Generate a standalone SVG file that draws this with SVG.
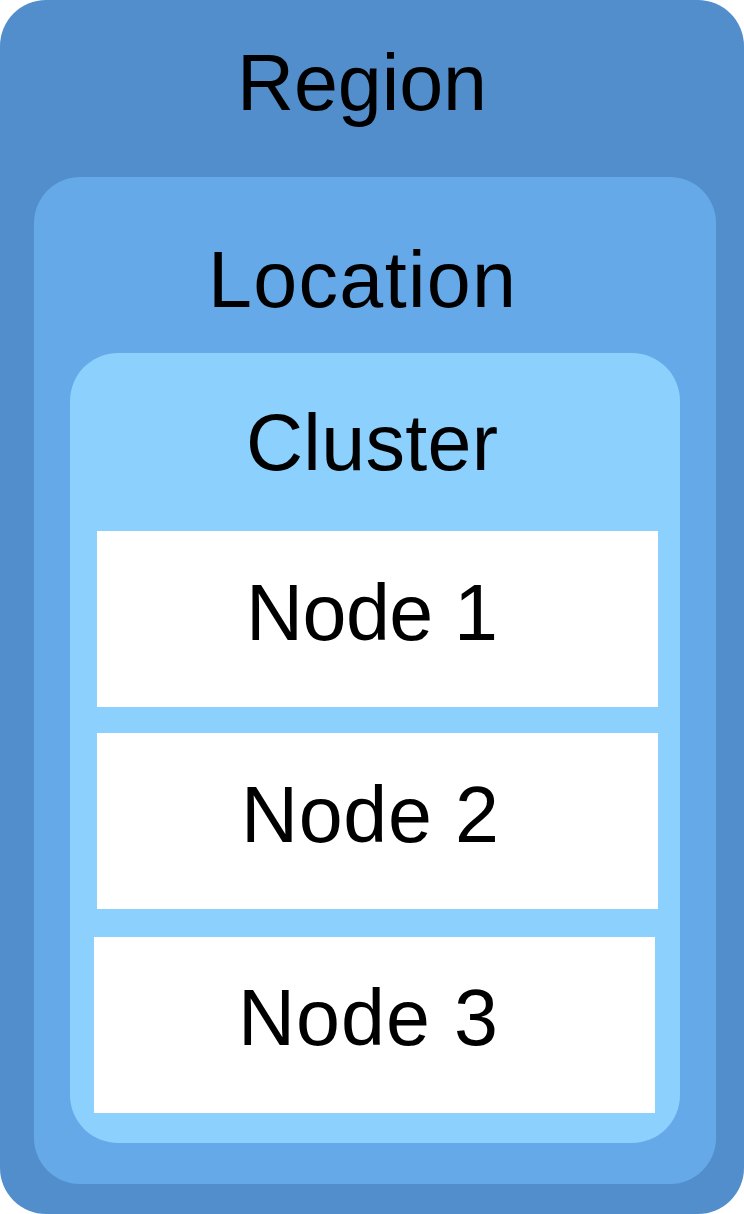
<svg xmlns="http://www.w3.org/2000/svg" width="744" height="1214" viewBox="0 0 744 1214">
<style>
text{font-family:"Liberation Sans",Arial,sans-serif;font-size:79px;fill:#000;text-anchor:middle}
.node{fill:#fff}
</style>
<g id="region">
<rect x="0" y="0" width="744" height="1214" rx="46" ry="46" fill="#528ECC"/>
<text x="362" y="110" textLength="250" lengthAdjust="spacing">Region</text>
</g>
<g id="location">
<rect x="34" y="177" width="682" height="1007" rx="46" ry="46" fill="#65A9E8"/>
<text x="362" y="307" textLength="308" lengthAdjust="spacing">Location</text>
</g>
<g id="cluster">
<rect x="70" y="353" width="610" height="790" rx="48" ry="48" fill="#8CD1FD"/>
<text x="372" y="470" textLength="252" lengthAdjust="spacing">Cluster</text>
</g>
<g id="node1">
<rect class="node" x="97" y="531" width="561" height="176"/>
<text x="372" y="640" textLength="252" lengthAdjust="spacing">Node 1</text>
</g>
<g id="node2">
<rect class="node" x="97" y="733" width="561" height="176"/>
<text x="370" y="842" textLength="258" lengthAdjust="spacing">Node 2</text>
</g>
<g id="node3">
<rect class="node" x="94" y="937" width="561" height="176"/>
<text x="368" y="1045" textLength="260" lengthAdjust="spacing">Node 3</text>
</g>
<g id="connectors"/>
</svg>
